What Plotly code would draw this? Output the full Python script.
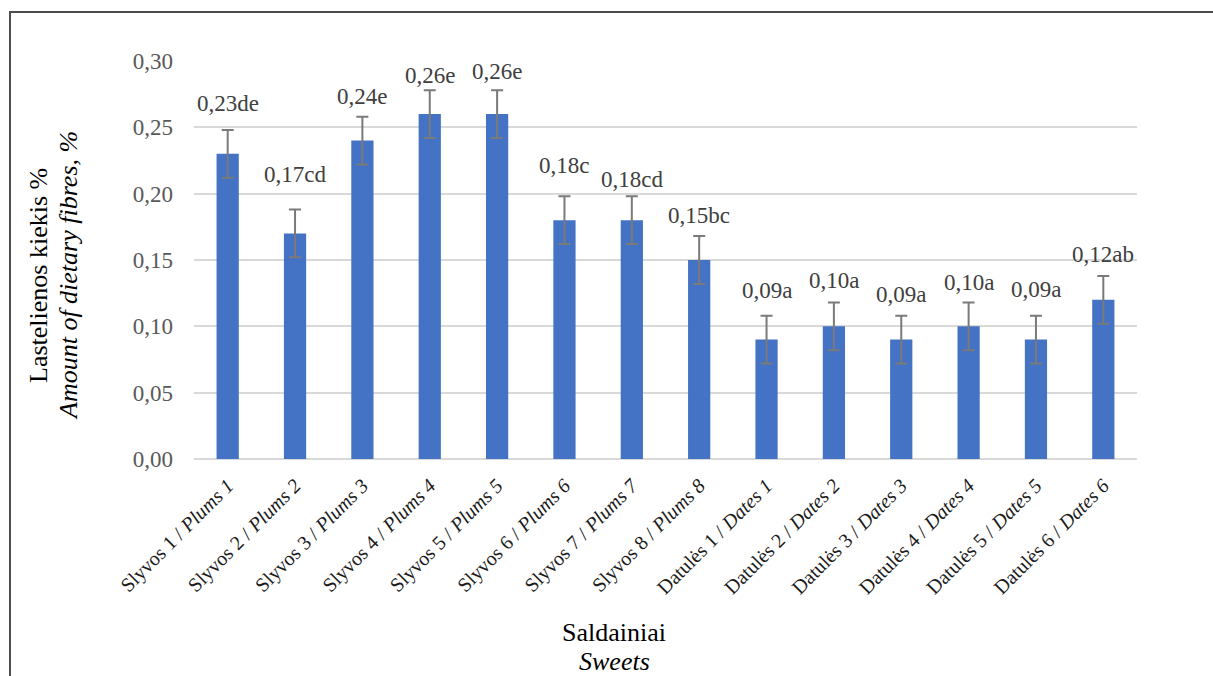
import plotly.graph_objects as go

# Dietary fibre content of plum and date sweets
categories = [
    "Slyvos 1 / <i>Plums 1</i>", "Slyvos 2 / <i>Plums 2</i>", "Slyvos 3 / <i>Plums 3</i>",
    "Slyvos 4 / <i>Plums 4</i>", "Slyvos 5 / <i>Plums 5</i>", "Slyvos 6 / <i>Plums 6</i>",
    "Slyvos 7 / <i>Plums 7</i>", "Slyvos 8 / <i>Plums 8</i>",
    "Datulės 1 / <i>Dates 1</i>", "Datulės 2 / <i>Dates 2</i>", "Datulės 3 / <i>Dates 3</i>",
    "Datulės 4 / <i>Dates 4</i>", "Datulės 5 / <i>Dates 5</i>", "Datulės 6 / <i>Dates 6</i>",
]
fibre = [0.23, 0.17, 0.24, 0.26, 0.26, 0.18, 0.18, 0.15, 0.09, 0.10, 0.09, 0.10, 0.09, 0.12]
error = [0.018] * 14
letters = ["de", "cd", "e", "e", "e", "c", "cd", "bc", "a", "a", "a", "a", "a", "ab"]
y_ticks = [0.00, 0.05, 0.10, 0.15, 0.20, 0.25, 0.30]

# label lift above each error bar cap, in pixels
label_lift = [26, 35, 20, 15, 19, 31, 17, 21, 25, 22, 21, 20, 26, 21]

W, H = 1213, 676
ML, MR, MT, MB = 194, 76, 61, 217
PW, PH = W - ML - MR, H - MT - MB

def px_x(px):
    return (px - ML) / PW

def px_y(py):
    return (H - MB - py) / PH

FONT = "Liberation Serif"

fig = go.Figure()
fig.add_trace(go.Bar(
    x=categories, y=fibre,
    marker=dict(color="#4472C4", line=dict(width=0)),
    width=0.33,
    error_y=dict(type="data", array=error, color="#7A7A7A", thickness=2, width=6),
    hoverinfo="skip",
))

for cat, v, e, lt, dy in zip(categories, fibre, error, letters, label_lift):
    fig.add_annotation(
        x=cat, y=v + e, xref="x", yref="y",
        text=f"{v:.2f}".replace(".", ",") + lt,
        showarrow=False, yanchor="middle", yshift=dy,
        font=dict(family=FONT, size=23, color="#404040"),
    )

# axis titles (Lithuanian line above, English line in italics)
title_font = dict(family=FONT, size=26, color="#000000")
fig.add_annotation(
    x=px_x(38), y=px_y(276), xref="paper", yref="paper",
    text="Lastelienos kiekis %", textangle=-90, showarrow=False,
    xanchor="center", yanchor="middle", font=title_font,
)
fig.add_annotation(
    x=px_x(68), y=px_y(276), xref="paper", yref="paper",
    text="<i>Amount of dietary fibres, %</i>", textangle=-90, showarrow=False,
    xanchor="center", yanchor="middle", font=title_font,
)
fig.add_annotation(
    x=px_x(614), y=px_y(632), xref="paper", yref="paper",
    text="Saldainiai", showarrow=False,
    xanchor="center", yanchor="middle", font=title_font,
)
fig.add_annotation(
    x=px_x(614), y=px_y(661), xref="paper", yref="paper",
    text="<i>Sweets</i>", showarrow=False,
    xanchor="center", yanchor="middle", font=title_font,
)

# outer chart frame
fig.add_shape(type="line", xref="paper", yref="paper",
              x0=px_x(10), x1=px_x(10), y0=px_y(12), y1=px_y(H + 5),
              line=dict(color="#4D4D4D", width=2))
fig.add_shape(type="line", xref="paper", yref="paper",
              x0=px_x(9), x1=px_x(W + 5), y0=px_y(12), y1=px_y(12),
              line=dict(color="#4D4D4D", width=2))

fig.update_layout(
    width=W, height=H,
    margin=dict(l=ML, r=MR, t=MT, b=MB),
    paper_bgcolor="white", plot_bgcolor="white",
    separators=", ",
    showlegend=False,
    font=dict(family=FONT),
)
fig.update_xaxes(
    tickangle=-45, showgrid=False, showline=False, zeroline=False,
    tickfont=dict(family=FONT, size=20, color="#1A1A1A"),
    ticks="", ticklabelstandoff=10,
)
fig.update_yaxes(
    range=[0, 0.30], tickvals=y_ticks, tickformat=".2f",
    showgrid=True, gridcolor="#D9D9D9", gridwidth=1.5,
    zeroline=True, zerolinecolor="#D9D9D9", zerolinewidth=1.5,
    showline=False, ticks="", ticklabelstandoff=20,
    tickfont=dict(family=FONT, size=23, color="#595959"),
)

fig.write_html("out.html")
